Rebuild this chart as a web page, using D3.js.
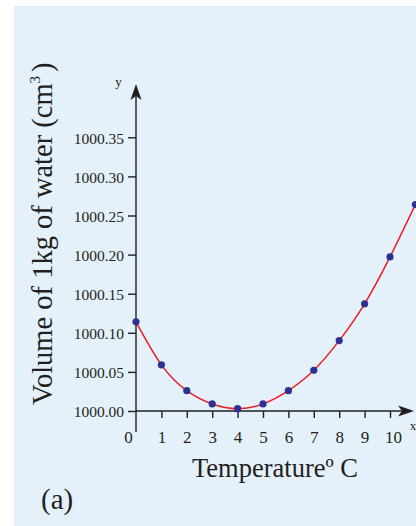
<!DOCTYPE html>
<html><head><meta charset="utf-8">
<script src="https://cdn.jsdelivr.net/npm/d3@7"></script>
<style>html,body{margin:0;padding:0;background:#fff;}svg{display:block;}</style>
</head><body>
<script>
const temperatures = [0,1,2,3,4,5,6,7,8,9,10,11];
const volumes = [1000.114,1000.059,1000.026,1000.009,1000.003,1000.009,1000.026,1000.052,1000.090,1000.137,1000.197,1000.264];
const yTicks = [1000.00,1000.05,1000.10,1000.15,1000.20,1000.25,1000.30,1000.35];
const xTicks = [0,1,2,3,4,5,6,7,8,9,10];
const xTitle = "Temperatureº C";
const panelLabel = "(a)";

const W = 416, H = 526;
const svg = d3.select("body").append("svg").attr("width", W).attr("height", H);
const font = "'Liberation Serif','Times New Roman',serif";
const ink = "#231f20";

svg.append("rect").attr("x",14).attr("y",6).attr("width",W-14).attr("height",H-6).attr("fill","#e4f1fa");

const x = d3.scaleLinear().domain([0,10]).range([136,390]);
const y = d3.scaleLinear().domain([1000.00,1000.35]).range([411,137.3]);

const yAxis = d3.axisLeft(y).tickValues(yTicks).tickSize(8).tickPadding(4)
  .tickFormat(d => d3.format(".2f")(d));
const gy = svg.append("g").attr("transform",`translate(${x(0)},0)`).call(yAxis);
gy.select(".domain").remove();
gy.selectAll("line").attr("stroke",ink).attr("stroke-width",1.4);
gy.selectAll("text").attr("font-family",font).attr("font-size",15.5).attr("fill",ink).attr("dy","0.38em");

const xAxis = d3.axisBottom(x).tickValues(xTicks).tickSize(7).tickPadding(13).tickFormat(d3.format("d"));
const gx = svg.append("g").attr("transform",`translate(0,${y(1000)})`).call(xAxis);
gx.select(".domain").remove();
gx.selectAll("line").attr("stroke",ink).attr("stroke-width",1.4);
gx.selectAll(".tick").filter(d=>d===0).select("line").remove();
gx.selectAll("text").attr("font-family",font).attr("font-size",17).attr("fill",ink).attr("dy","0.71em");
gx.selectAll(".tick").filter(d=>d===0).select("text").attr("x",-8);
gx.selectAll(".tick").filter(d=>d===10).select("text").attr("x",3);

svg.append("line").attr("x1",x(0)).attr("x2",x(0)).attr("y1",432).attr("y2",96)
  .attr("stroke",ink).attr("stroke-width",1.4);
svg.append("line").attr("x1",x(0)).attr("x2",402).attr("y1",y(1000)).attr("y2",y(1000))
  .attr("stroke",ink).attr("stroke-width",1.4);
const ax = x(0), ay = 84;
svg.append("path").attr("d",`M${ax},${ay} L${ax+5.5},${ay+16} L${ax},${ay+12} L${ax-5.5},${ay+16} Z`).attr("fill",ink);
const bx = 414, by = y(1000);
svg.append("path").attr("d",`M${bx},${by} L${bx-16},${by-5.5} L${bx-12},${by} L${bx-16},${by+5.5} Z`).attr("fill",ink);

svg.append("text").attr("x",118.5).attr("y",86).attr("text-anchor","middle")
  .attr("font-family",font).attr("font-size",13).attr("fill",ink).text("y");
svg.append("text").attr("x",413).attr("y",430).attr("text-anchor","middle")
  .attr("font-family",font).attr("font-size",13).attr("fill",ink).text("x");

svg.append("text").attr("x",192).attr("y",477).attr("font-family",font).attr("font-size",26.5)
  .attr("fill",ink).text(xTitle);
const yt = svg.append("text").attr("transform","translate(52,405) rotate(-90)")
  .attr("font-family",font).attr("font-size",28.5).attr("fill",ink);
yt.append("tspan").text("Volume of 1kg of water (cm");
yt.append("tspan").attr("font-size",15).attr("dy",-12).text("3");
yt.append("tspan").attr("dy",12).attr("dx",4).text(")");
svg.append("text").attr("x",41).attr("y",509).attr("font-family",font).attr("font-size",29)
  .attr("fill",ink).text(panelLabel);

const pts = temperatures.map((t,i)=>[t,volumes[i]]);
const line = d3.line().x(d=>x(d[0])).y(d=>y(d[1])).curve(d3.curveNatural);
svg.append("path").attr("d",line(pts)).attr("fill","none").attr("stroke","#ec1c24").attr("stroke-width",1.5);
svg.selectAll("circle.pt").data(pts).join("circle").attr("class","pt")
  .attr("cx",d=>x(d[0])).attr("cy",d=>y(d[1])).attr("r",3.6).attr("fill","#2e3192");
</script>
</body></html>
